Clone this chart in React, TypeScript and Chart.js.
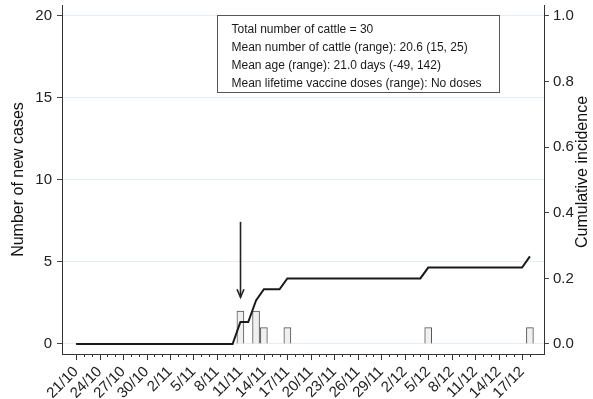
import React, { useEffect, useRef } from 'react';
import { Chart, registerables } from 'chart.js';

Chart.register(...registerables);

// ---------- data ----------
const START_DATE = '21/10';
const xTickLabels = ['21/10', '24/10', '27/10', '30/10', '2/11', '5/11', '8/11', '11/11', '14/11', '17/11', '20/11', '23/11', '26/11', '29/11', '2/12', '5/12', '8/12', '11/12', '14/12', '17/12'];
const lastTickDate = '18/12';

const caseDates = ['11/11', '13/11', '14/11', '17/11', '5/12', '18/12'];
const caseCounts = [2, 2, 1, 1, 1, 1];

const incidenceDates = ['21/10', '10/11', '11/11', '12/11', '13/11', '14/11', '16/11', '17/11', '4/12', '5/12', '17/12', '18/12'];
const incidenceValues = [0, 0, 0.067, 0.067, 0.133, 0.167, 0.167, 0.2, 0.2, 0.233, 0.233, 0.267];

const leftTicks = [0, 5, 10, 15, 20];
const rightTicks = [0, 0.2, 0.4, 0.6, 0.8, 1.0];

const leftTitle = 'Number of new cases';
const rightTitle = 'Cumulative incidence';

const infoLines = [
  'Total number of cattle = 30',
  'Mean number of cattle (range): 20.6 (15, 25)',
  'Mean age (range): 21.0 days (-49, 142)',
  'Mean lifetime vaccine doses (range): No doses',
];

const arrowDate = '11/11';
const arrowFromCases = 7.45;
const arrowToCases = 2.85;

// ---------- helpers ----------
function dayOf(s: string): number {
  const [d, m] = s.split('/').map(Number);
  const [d0, m0] = START_DATE.split('/').map(Number);
  return Math.round((Date.UTC(2000, m - 1, d) - Date.UTC(2000, m0 - 1, d0)) / 86400000);
}

const FONT = "'Liberation Sans', Arial, sans-serif";
const X_MIN = -1.8;
const X_MAX = 59.8;
const Y_MIN = -0.61;
const Y_MAX = 20.67;
const RATIO = 20; // 20 cases <-> incidence 1.0

const BOX = { x0: 18.0, x1: 54.1, yTop: 20.06, yBottom: 15.37 };

export default function App() {
  const ref = useRef<HTMLCanvasElement | null>(null);

  useEffect(() => {
    if (!ref.current) return;
    const majorMap = new Map<number, string>();
    xTickLabels.forEach((l) => majorMap.set(dayOf(l), l));
    const lastDay = dayOf(lastTickDate);

    const decor = {
      id: 'decor',
      afterDraw(chart: any) {
        const ctx = chart.ctx;
        const xs = chart.scales.x;
        const ys = chart.scales.y;
        const area = chart.chartArea;
        ctx.save();
        // x ticks (major/minor)
        ctx.strokeStyle = '#333';
        ctx.lineWidth = 1;
        for (let d = 0; d <= lastDay; d++) {
          const px = Math.round(xs.getPixelForValue(d)) + 0.5;
          const len = majorMap.has(d) ? 6 : 3;
          ctx.beginPath();
          ctx.moveTo(px, area.bottom);
          ctx.lineTo(px, area.bottom + len);
          ctx.stroke();
        }
        // arrow
        const ax = Math.round(xs.getPixelForValue(dayOf(arrowDate))) + 0.5;
        const ay0 = ys.getPixelForValue(arrowFromCases);
        const ay1 = ys.getPixelForValue(arrowToCases);
        ctx.strokeStyle = '#222';
        ctx.lineWidth = 1.6;
        ctx.beginPath();
        ctx.moveTo(ax, ay0);
        ctx.lineTo(ax, ay1);
        ctx.stroke();
        ctx.beginPath();
        ctx.moveTo(ax - 3.5, ay1 - 8);
        ctx.lineTo(ax, ay1);
        ctx.lineTo(ax + 3.5, ay1 - 8);
        ctx.stroke();
        // info box
        const bx0 = Math.round(xs.getPixelForValue(BOX.x0)) + 0.5;
        const bx1 = Math.round(xs.getPixelForValue(BOX.x1)) + 0.5;
        const by0 = Math.round(ys.getPixelForValue(BOX.yTop)) + 0.5;
        const by1 = Math.round(ys.getPixelForValue(BOX.yBottom)) + 0.5;
        ctx.fillStyle = '#fff';
        ctx.fillRect(bx0, by0, bx1 - bx0, by1 - by0);
        ctx.strokeStyle = '#555';
        ctx.lineWidth = 1;
        ctx.strokeRect(bx0, by0, bx1 - bx0, by1 - by0);
        ctx.fillStyle = '#1a1a1a';
        ctx.font = `12px ${FONT}`;
        ctx.textAlign = 'left';
        ctx.textBaseline = 'alphabetic';
        infoLines.forEach((t, i) => {
          ctx.fillText(t, bx0 + 14, by0 + 17.5 + i * 18);
        });
        // axis titles
        ctx.fillStyle = '#111';
        ctx.textAlign = 'center';
        ctx.textBaseline = 'middle';
        ctx.save();
        ctx.font = `16px ${FONT}`;
        ctx.translate(19, 179.5);
        ctx.rotate(-Math.PI / 2);
        ctx.fillText(leftTitle, 0, 0);
        ctx.restore();
        ctx.save();
        ctx.font = `16px ${FONT}`;
        ctx.translate(583, 172);
        ctx.rotate(-Math.PI / 2);
        ctx.fillText(rightTitle, 0, 0);
        ctx.restore();
        ctx.restore();
      },
    };

    const chart = new Chart(ref.current, {
      type: 'bar',
      data: {
        datasets: [
          {
            type: 'line',
            label: 'Cumulative incidence',
            data: incidenceDates.map((d, i) => ({ x: dayOf(d), y: incidenceValues[i] })),
            yAxisID: 'y1',
            xAxisID: 'x',
            borderColor: '#1a1a1a',
            borderWidth: 2,
            pointRadius: 0,
            tension: 0,
            fill: false,
            order: 0,
          } as any,
          {
            type: 'bar',
            label: 'New cases',
            data: caseDates.map((d, i) => ({ x: dayOf(d), y: caseCounts[i] })),
            yAxisID: 'y',
            xAxisID: 'x',
            backgroundColor: '#f0f0f0',
            borderColor: '#555',
            borderWidth: 1,
            barThickness: 7,
            order: 1,
          } as any,
        ],
      },
      options: {
        animation: false,
        responsive: false,
        maintainAspectRatio: false,
        layout: { padding: { top: 5, left: 0, right: 0, bottom: 0 } },
        plugins: { legend: { display: false }, tooltip: { enabled: false }, title: { display: false } },
        scales: {
          x: {
            type: 'linear',
            min: X_MIN,
            max: X_MAX,
            offset: false,
            grid: { display: true, drawOnChartArea: false, tickLength: 6, tickColor: 'rgba(0,0,0,0)', offset: false },
            border: { display: true, color: '#333', width: 1 },
            afterBuildTicks: (s: any) => {
              const t = [];
              for (let d = 0; d <= lastDay; d++) t.push({ value: d });
              s.ticks = t;
            },
            afterFit: (s: any) => { s.height = 45; s.paddingLeft = 0; s.paddingRight = 0; },
            ticks: {
              autoSkip: false,
              minRotation: 45,
              maxRotation: 45,
              padding: 3,
              color: '#222',
              font: { family: FONT, size: 15 },
              callback: (v: any) => majorMap.get(Number(v)) ?? '',
            },
          },
          y: {
            type: 'linear',
            position: 'left',
            min: Y_MIN,
            max: Y_MAX,
            grid: { color: '#e6edf2', lineWidth: 1, tickColor: '#444', tickLength: 5 },
            border: { display: true, color: '#333', width: 1 },
            afterBuildTicks: (s: any) => { s.ticks = leftTicks.map((v) => ({ value: v })); },
            afterFit: (s: any) => { s.width = 62; s.paddingTop = 0; s.paddingBottom = 0; },
            ticks: { padding: 5, color: '#222', font: { family: FONT, size: 15 }, callback: (v: any) => String(v) },
          },
          y1: {
            type: 'linear',
            position: 'right',
            min: Y_MIN / RATIO,
            max: Y_MAX / RATIO,
            grid: { drawOnChartArea: false, tickColor: '#444', tickLength: 5 },
            border: { display: true, color: '#333', width: 1 },
            afterBuildTicks: (s: any) => { s.ticks = rightTicks.map((v) => ({ value: v })); },
            afterFit: (s: any) => { s.width = 49; s.paddingTop = 0; s.paddingBottom = 0; },
            ticks: { padding: 4, color: '#222', font: { family: FONT, size: 15 }, callback: (v: any) => Number(v).toFixed(1) },
          },
        },
      } as any,
      plugins: [decor],
    });
    return () => chart.destroy();
  }, []);

  return (
    <div style={{ position: 'absolute', left: 0, top: 0, width: 593, height: 399, background: '#fff' }}>
      <canvas ref={ref} width={593} height={399} style={{ width: 593, height: 399, display: 'block' }} />
    </div>
  );
}
